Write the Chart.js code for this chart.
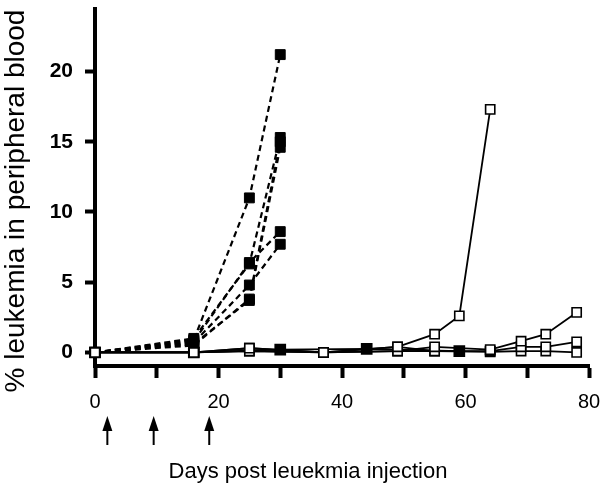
<!DOCTYPE html>
<html>
<head>
<meta charset="utf-8">
<script src="https://cdn.jsdelivr.net/npm/chart.js@4/dist/chart.umd.min.js"></script>
<style>
  html, body { margin: 0; padding: 0; background: #fff; }
  #wrap { width: 604px; height: 493px; }
</style>
</head>
<body>
<div id="wrap"><canvas id="myChart" width="604" height="493"></canvas></div>
<script>
// days on which the leukemia % was sampled, per mouse
// untreated mice (filled squares, dashed lines)
const ctrlDays = [0, 16, 25, 30];
const ctrl1 = [0, 0.9, 11.0, 21.2];
const ctrl2 = [0, 0.8, 6.4, 8.6];
const ctrl3 = [0, 0.7, 4.8, 7.7];
const ctrl4 = [0, 0.6, 3.7, 14.6];
const ctrl5 = [0, 0.5, 3.8, 15.0];
const ctrl6 = [0, 1.0, 6.3, 15.3];

// filled squares on solid line near baseline
const lowDays = [0, 16, 30, 44, 59];
const low1 = [0, 0, 0.2, 0.25, 0.1];

// treated mice (open squares, solid lines)
const trtDaysA = [0, 16, 25, 37, 49, 55, 59, 64];
const trt1 = [0, 0, 0.3, 0, 0.4, 1.3, 2.6, 17.3];
const trtDaysB = [0, 16, 25, 37, 49, 55, 64, 69, 73, 78];
const trt2 = [0, 0, 0.1, 0, 0.1, 0.4, 0.2, 0.8, 1.3, 2.85];
const trt3 = [0, 0, 0.3, 0, 0.4, 0.1, 0.1, 0.4, 0.4, 0.75];
const trt4 = [0, 0, 0.1, 0, 0.1, 0.1, 0.05, 0.1, 0.1, 0];

// treatment days marked with arrows
const arrowDays = [2, 9.5, 18.5];

const xTicks = [0, 20, 40, 60, 80];
const yTicks = [0, 5, 10, 15, 20];

const fontFam = "'Liberation Sans', Arial, Helvetica, sans-serif";

function pts(days, vals) {
    return days.map((d, i) => ({x: d, y: vals[i]}));
}

function ctrlSet(vals) {
    return {
        data: pts(ctrlDays, vals),
        borderColor: '#000',
        borderWidth: 2.2,
        borderDash: [6, 4],
        pointStyle: 'rect',
        pointRadius: 7,
        pointBackgroundColor: '#000',
        pointBorderColor: '#000',
        pointBorderWidth: 1,
        clip: false
    };
}

function trtSet(days, vals) {
    return {
        data: pts(days, vals),
        borderColor: '#000',
        borderWidth: 1.8,
        pointStyle: 'rect',
        pointRadius: 6.5,
        pointBackgroundColor: '#fff',
        pointBorderColor: '#000',
        pointBorderWidth: 1.6,
        clip: false
    };
}

const lowSet = {
    data: pts(lowDays, low1),
    borderColor: '#000',
    borderWidth: 1.8,
    pointStyle: 'rect',
    pointRadius: 7,
    pointBackgroundColor: '#000',
    pointBorderColor: '#000',
    clip: false
};

// axis titles + arrows below x axis
const extras = {
    id: 'extras',
    afterDraw(chart) {
        const ctx = chart.ctx;
        const xs = chart.scales.x;
        ctx.save();
        ctx.fillStyle = '#000';
        ctx.strokeStyle = '#000';

        ctx.font = '28px ' + fontFam;
        ctx.textAlign = 'center';
        ctx.textBaseline = 'middle';
        ctx.translate(16, 201);
        ctx.rotate(-Math.PI / 2);
        ctx.fillText('% leukemia in peripheral blood', 0, 0);
        ctx.setTransform(1, 0, 0, 1, 0, 0);

        ctx.font = '22px ' + fontFam;
        ctx.fillText('Days post leuekmia injection', 308, 472);

        ctx.lineWidth = 2;
        arrowDays.forEach(d => {
            const px = xs.getPixelForValue(d);
            ctx.beginPath();
            ctx.moveTo(px, 445);
            ctx.lineTo(px, 428);
            ctx.stroke();
            ctx.beginPath();
            ctx.moveTo(px, 416);
            ctx.lineTo(px - 5, 431);
            ctx.lineTo(px + 5, 431);
            ctx.closePath();
            ctx.fill();
        });
        ctx.restore();
    }
};

new Chart(document.getElementById('myChart'), {
    type: 'line',
    data: {
        datasets: [
            trtSet(trtDaysA, trt1),
            trtSet(trtDaysB, trt2),
            trtSet(trtDaysB, trt3),
            trtSet(trtDaysB, trt4),
            lowSet,
            ctrlSet(ctrl1),
            ctrlSet(ctrl2),
            ctrlSet(ctrl3),
            ctrlSet(ctrl4),
            ctrlSet(ctrl5),
            ctrlSet(ctrl6)
        ]
    },
    options: {
        responsive: false,
        animation: false,
        layout: { padding: { top: 5, right: 15, left: 0, bottom: 0 } },
        plugins: {
            legend: { display: false },
            tooltip: { enabled: false }
        },
        scales: {
            x: {
                type: 'linear',
                min: 0,
                max: 80,
                afterFit(scale) {
                    scale.height = 127;
                    scale.paddingLeft = 0;
                    scale.paddingRight = 0;
                },
                border: { display: true, color: '#000', width: 4 },
                grid: {
                    drawOnChartArea: false,
                    drawTicks: true,
                    tickLength: 12,
                    tickWidth: 4,
                    tickColor: '#000'
                },
                ticks: {
                    stepSize: 10,
                    padding: 12,
                    color: '#000',
                    maxRotation: 0,
                    font: { family: fontFam, size: 20 },
                    callback: v => xTicks.includes(v) ? String(v) : ''
                }
            },
            y: {
                type: 'linear',
                min: -0.965,
                max: 24.46,
                afterFit(scale) {
                    scale.width = 95;
                    scale.paddingTop = 0;
                    scale.paddingBottom = 0;
                },
                border: { display: true, color: '#000', width: 4 },
                grid: {
                    drawOnChartArea: false,
                    drawTicks: true,
                    tickLength: 10,
                    tickWidth: 4,
                    tickColor: '#000'
                },
                ticks: {
                    stepSize: 5,
                    includeBounds: false,
                    padding: 12,
                    color: '#000',
                    font: { family: fontFam, size: 21, weight: 'bold' },
                    callback: v => yTicks.includes(v) ? String(v) : ''
                }
            }
        }
    },
    plugins: [extras]
});
</script>
</body>
</html>
